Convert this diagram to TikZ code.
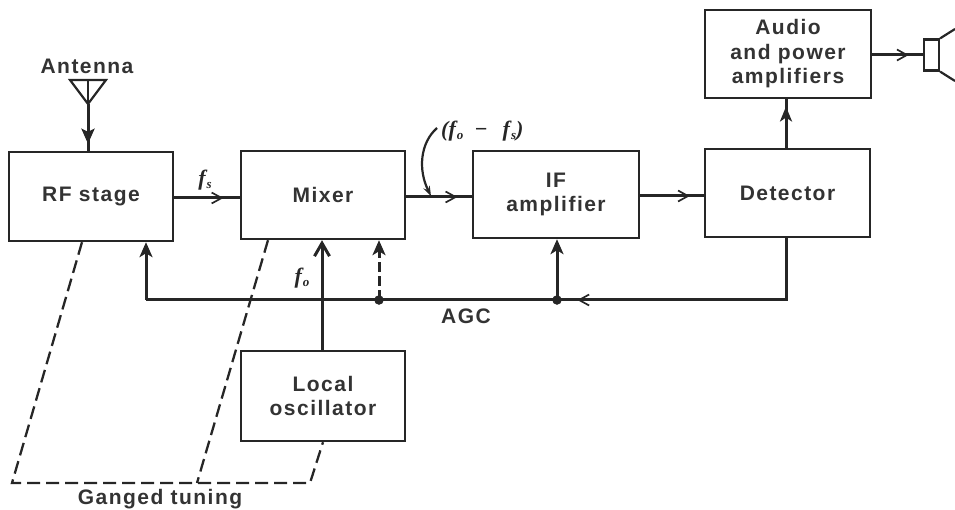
\documentclass[tikz,border=0pt]{standalone}
\usepackage{fontspec}
\setmainfont{Liberation Sans}[LetterSpace=7,BoldFont={Liberation Sans Bold}]
\newfontfamily\mathish{Liberation Serif}
\usetikzlibrary{arrows.meta,decorations.markings,calc}
\tikzset{
  block/.style={draw=black!85,line width=2.4pt,fill=white,minimum width=#1,inner sep=0pt,align=center,
    font=\fontsize{21}{24.5}\selectfont\bfseries,text=black!80},
  block/.default=164pt,
  lbl/.style={inner sep=0pt,font=\fontsize{21}{24}\selectfont\bfseries,text=black!80},
  sym/.style={inner sep=0pt,font=\fontsize{22}{24}\mathish\itshape\bfseries,text=black!85},
  wire/.style={draw=black!85,line width=3pt},
  thin wire/.style={draw=black!85,line width=2.2pt},
  gang/.style={draw=black!85,line width=2.3pt,dash pattern=on 13pt off 6pt},
  tipat/.style={postaction={decorate},decoration={markings,mark=at position #1 with {\arrow[line width=1.7pt]{Straight Barb[length=10pt,width=11pt]}}}},
  bigtip/.style={-{Stealth[length=15pt,width=13pt,inset=4pt]}},
  dot/.style={circle,fill=black!85,draw=black!85,minimum size=9pt,inner sep=0pt},
}
\begin{document}
\begin{tikzpicture}[x=1pt,y=-1pt]
\useasboundingbox (0,0) rectangle (955,510);
% blocks
\node[block,minimum height=89pt] (rf) at (91,196.5) {RF stage};
\node[block,minimum height=88pt] (mix) at (323,195) {Mixer};
\node[block=166pt,minimum height=87pt] (if) at (556,194.5) {IF\\amplifier};
\node[block=165pt,minimum height=88pt] (det) at (787.5,193) {Detector};
\node[block=166pt,minimum height=88pt] (aud) at (788,54) {Audio\\and power\\amplifiers};
\node[block,minimum height=90pt] (lo) at (323,396) {Local\\oscillator};
% antenna
\coordinate (ant) at (88,104);
\coordinate (anttl) at (70,80);
\coordinate (anttr) at (106,80);
\coordinate (anttm) at (88,80);
\draw[thin wire,line join=miter] (anttl) -- (anttr) -- (ant) -- cycle;
\draw[thin wire] (anttm) -- (ant);
\draw[wire,postaction={decorate},decoration={markings,mark=at position 0.85 with {\arrow{Stealth[length=15pt,width=13pt,inset=3pt]}}}] (ant) -- (rf.north -| ant);
\node[lbl] (antl) at (87,66) {Antenna};
% forward chain
\draw[wire,tipat=0.75] (rf.east |- 0,198) -- (mix.west |- 0,198);
\draw[wire,tipat=0.78] (mix.east |- 0,197) -- (if.west |- 0,197);
\draw[wire,tipat=0.78] (if.east |- 0,196) -- (det.west |- 0,196);
\draw[wire,postaction={decorate},decoration={markings,mark=at position 0.85 with {\arrow{Stealth[length=15pt,width=12pt,inset=4pt]}}}] (det.north -| 786,0) -- (aud.south -| 786,0);
% speaker
\node[draw=black!85,line width=2.2pt,inner sep=0pt,minimum width=15pt,minimum height=31pt] (spk) at (931.5,55) {};
\coordinate (cone1) at (955,29);
\coordinate (cone2) at (955,81);
\draw[thin wire] (spk.north east) -- (cone1);
\draw[thin wire] (spk.south east) -- (cone2);
\draw[wire,tipat=0.72] (aud.east |- spk) -- (spk.west);
% AGC
\coordinate (agcr) at (786,300);
\coordinate (j2) at (557,300);
\coordinate (j1) at (379,300);
\coordinate (agcl) at (146,300);
\draw[wire,line join=miter,tipat=0.93] (det.south -| agcr) -- (agcr) -- (j2);
\draw[wire] (j2) -- (j1) -- (agcl);
\draw[wire,line join=miter,bigtip] (agcl) -- (rf.south -| agcl);
\draw[wire,bigtip] (j2) -- (if.south -| j2);
\draw[wire,dash pattern=on 10pt off 4pt,bigtip] (j1) -- (mix.south -| j1);
\node[dot] (d1) at (j1) {};
\node[dot] (d2) at (j2) {};
\draw[wire,-{Straight Barb[length=13pt,width=15pt]}] (lo.north -| 322,0) -- (mix.south -| 322,0);
% ganged tuning
\coordinate (g1) at (12,483);
\coordinate (g2) at (197,483);
\coordinate (g3) at (310,483);
\draw[gang] (rf.south -| 82,0) -- (g1) -- (g2) -- (g3) -- (lo.south -| 323,0);
\draw[gang] (mix.south -| 268,0) -- (g2);
% labels
\node[lbl] (agc) at (466,316) {AGC};
\node[lbl] (gt) at (160,499) {Ganged tuning};
\node[sym] (fs) at (205,180) {f\kern1pt\raisebox{-3pt}{\fontsize{13}{13}\selectfont s}};
\node[sym] (fo) at (302,278) {f\kern1pt\raisebox{-3pt}{\fontsize{13}{13}\selectfont o}};
\node[sym,anchor=west] (fd) at (441,131) {(f\kern1pt\raisebox{-3pt}{\fontsize{13}{13}\selectfont o}\kern11pt−\kern15pt f\kern1pt\raisebox{-3pt}{\fontsize{13}{13}\selectfont s})};
\coordinate (curvetip) at (431,196);
\draw[thin wire,-{Stealth[length=10pt,width=7pt]}] (fd.west) ++(-4,-3) .. controls (420,143) and (418,170) .. (curvetip);
\end{tikzpicture}
\end{document}
